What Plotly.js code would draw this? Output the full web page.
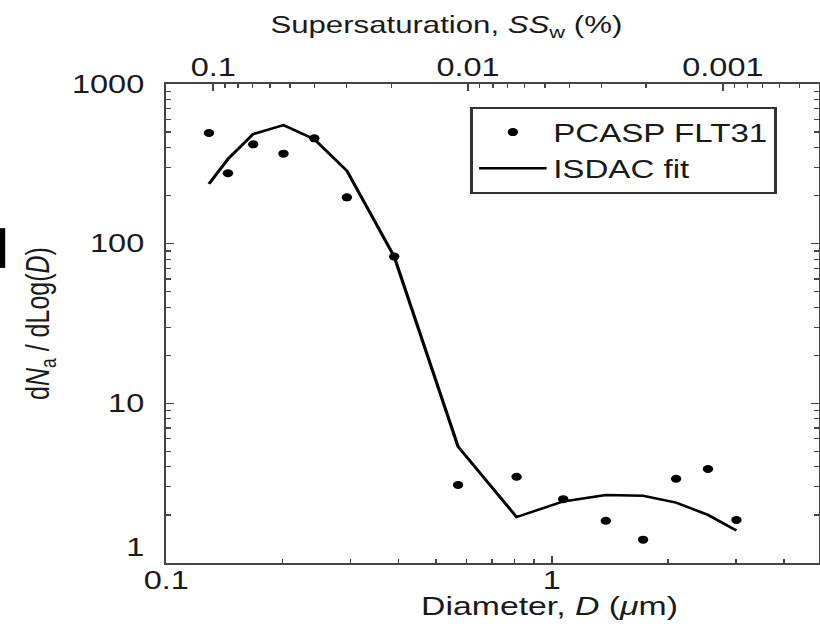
<!DOCTYPE html>
<html>
<head>
<meta charset="utf-8">
<script src="https://cdn.plot.ly/plotly-3.0.1.min.js"></script>
<style>
  html, body { margin: 0; padding: 0; background: #fff; overflow: hidden; }
  /* the figure is laid out narrow and widened on the page */
  #chart { width: 631px; height: 626px; transform: scaleX(1.2995); transform-origin: 0 0; }
</style>
</head>
<body>
<div id="chart"></div>
<script>
// PCASP size distribution (flight 31) and the ISDAC fit
const diameterUm = [0.129, 0.1445, 0.168, 0.2013, 0.242, 0.294, 0.390, 0.571, 0.810, 1.07, 1.38, 1.724, 2.10, 2.54, 3.01];
const pcaspFlt31 = [493, 276, 419, 366, 457, 195, 83, 3.08, 3.47, 2.51, 1.84, 1.40, 3.37, 3.88, 1.86];
const isdacFit   = [237, 339, 486, 553, 451, 286, 83, 5.36, 1.94, 2.43, 2.67, 2.64, 2.39, 2.00, 1.60];

// axis ticks (the lowest y label sits a little above its tick, clear of "0.1")
const diamTicks = [0.1, 1];
const diamTickText = ['0.1', '1'];
const diamMinor = [0.2, 0.3, 0.4, 0.5, 0.6, 0.7, 0.8, 0.9, 2, 3, 4];
const yTicks = [1, 10, 100, 1000];
const yTickText = ['1<br> ', '10', '100', '1000'];
const yMinor = [2,3,4,5,6,7,8,9, 20,30,40,50,60,70,80,90, 200,300,400,500,600,700,800,900];
const ssTicks = [0.1, 0.01, 0.001];
const ssTickText = ['0.1', '0.01', '0.001'];
const ssMinor = [0.09,0.08,0.07,0.06,0.05,0.04,0.03,0.02,
                 0.009,0.008,0.007,0.006,0.005,0.004,0.003,0.002,
                 0.0009,0.0008,0.0007,0.0006,0.0005];

const FONT = 'Liberation Sans, Arial, sans-serif';
const AXIS_COLOR = '#444';
const TEXT_COLOR = '#1a1a1a';

const traces = [
  {
    x: diameterUm, y: pcaspFlt31, name: 'PCASP FLT31',
    type: 'scatter', mode: 'markers', legendgroup: 'a',
    marker: { color: '#000', size: 8 },
    xaxis: 'x', yaxis: 'y'
  },
  {
    x: diameterUm, y: isdacFit, name: 'ISDAC fit',
    type: 'scatter', mode: 'lines', legendgroup: 'b',
    line: { color: '#000', width: 2.5 },
    xaxis: 'x', yaxis: 'y'
  },
  {
    // carries the supersaturation scale along the top edge
    x: ssTicks, y: ssTicks.map(() => null),
    type: 'scatter', mode: 'markers', showlegend: false, hoverinfo: 'skip',
    xaxis: 'x2', yaxis: 'y'
  }
];

const minorStyle = { ticks: 'inside', ticklen: 4, tickwidth: 1.2, tickcolor: AXIS_COLOR, showgrid: false };

const layout = {
  width: 631, height: 626,
  margin: { l: 128, r: 1, t: 84, b: 63 },
  paper_bgcolor: '#fff', plot_bgcolor: '#fff',
  font: { family: FONT, size: 25, color: TEXT_COLOR },
  showlegend: true,
  legend: {
    x: 0.4655, y: 0.952, xanchor: 'left', yanchor: 'top',
    bgcolor: '#fff', bordercolor: '#333', borderwidth: 2,
    font: { family: FONT, size: 25.5, color: TEXT_COLOR },
    traceorder: 'grouped', tracegroupgap: 0, itemwidth: 52
  },
  xaxis: {
    type: 'log', range: [-1, 0.692],
    tickmode: 'array', tickvals: diamTicks, ticktext: diamTickText,
    ticks: 'inside', ticklen: 7, tickwidth: 1.2, tickcolor: AXIS_COLOR,
    minor: Object.assign({ tickmode: 'array', tickvals: diamMinor }, minorStyle),
    showline: true, linecolor: AXIS_COLOR, linewidth: 2, mirror: false,
    showgrid: false, zeroline: false,
    ticklabelstandoff: -6,
    tickfont: { size: 25, color: TEXT_COLOR }
  },
  xaxis2: {
    type: 'log', range: [-0.816, -3.376],
    overlaying: 'x', side: 'top', anchor: 'y',
    tickmode: 'array', tickvals: ssTicks, ticktext: ssTickText,
    ticks: 'inside', ticklen: 7, tickwidth: 1.2, tickcolor: AXIS_COLOR,
    minor: Object.assign({ tickmode: 'array', tickvals: ssMinor }, minorStyle),
    showline: true, linecolor: AXIS_COLOR, linewidth: 2,
    showgrid: false, zeroline: false,
    ticklabelstandoff: -4,
    tickfont: { size: 25, color: TEXT_COLOR }
  },
  yaxis: {
    type: 'log', range: [0, 3],
    tickmode: 'array', tickvals: yTicks, ticktext: yTickText,
    ticks: 'inside', ticklen: 6, tickwidth: 1.2, tickcolor: AXIS_COLOR,
    minor: Object.assign({ tickmode: 'array', tickvals: yMinor }, minorStyle, { ticklen: 3.5 }),
    showline: true, linecolor: AXIS_COLOR, linewidth: 2, mirror: 'ticks',
    showgrid: false, zeroline: false,
    ticklabelstandoff: 10,
    tickfont: { size: 25, color: TEXT_COLOR },
    title: { text: 'd<i>N</i><sub>a</sub> / dLog(<i>D</i>)', font: { size: 25, color: TEXT_COLOR }, standoff: 10 }
  },
  annotations: [
    { // lower axis title
      text: 'Diameter, <i>D</i> (<i>μ</i>m)', xref: 'paper', yref: 'paper',
      x: 0.588, y: -0.09, xanchor: 'center', yanchor: 'middle', showarrow: false,
      font: { family: FONT, size: 26, color: TEXT_COLOR }
    },
    { // upper axis title
      text: 'Supersaturation, <i>SS</i><sub>w</sub> (%)', xref: 'paper', yref: 'paper',
      x: 0.430, y: 1.119, xanchor: 'center', yanchor: 'middle', showarrow: false,
      font: { family: FONT, size: 24, color: TEXT_COLOR }
    }
  ],
  shapes: [
    { type: 'rect', xref: 'paper', yref: 'paper',
      x0: -0.255, x1: -0.247, y0: 0.616, y1: 0.699,
      fillcolor: '#000', line: { width: 0 } }
  ]
};

Plotly.newPlot('chart', traces, layout, { displayModeBar: false, staticPlot: true });
</script>
</body>
</html>
